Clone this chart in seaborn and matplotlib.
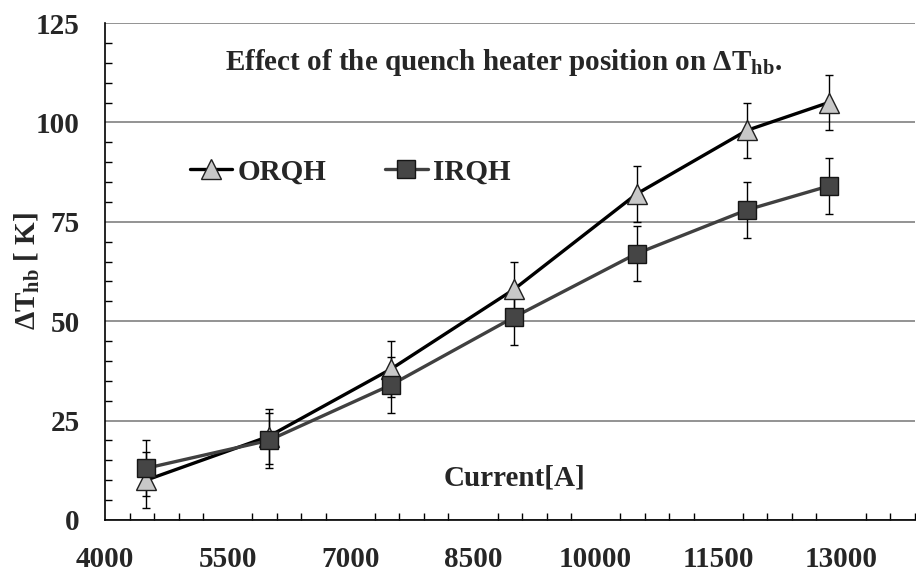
import numpy as np
import pandas as pd
import matplotlib
matplotlib.use("Agg")
import matplotlib.pyplot as plt
from matplotlib.ticker import FixedLocator
import seaborn as sns

# dados
corrente = [4500, 6000, 7500, 9000, 10500, 11850, 12850]
dt_orqh = [10, 21, 38, 58, 82, 98, 105]
dt_irqh = [13, 20, 34, 51, 67, 78, 84]
erro_orqh = [7, 7, 7, 7, 7, 7, 7]
erro_irqh = [7, 7, 7, 7, 7, 7, 7]

sns.set_theme(style="white")
plt.rcParams['font.family'] = ['Liberation Serif', 'DejaVu Serif']
plt.rcParams['font.weight'] = 'bold'
plt.rcParams['mathtext.fontset'] = 'custom'
plt.rcParams['mathtext.rm'] = 'Liberation Serif:bold'
plt.rcParams['mathtext.bf'] = 'Liberation Serif:bold'
plt.rcParams['mathtext.it'] = 'Liberation Serif:bold'

FS = 21

df = pd.DataFrame({'Current': corrente, 'ORQH': dt_orqh, 'IRQH': dt_irqh})

fig, ax = plt.subplots(figsize=(9.16, 5.84), dpi=100)
fig.subplots_adjust(left=0.1146, right=0.9985, bottom=0.1096, top=0.9606)

# barras de erro primeiro (ficam atrás dos marcadores)
ax.errorbar(corrente, dt_orqh, yerr=erro_orqh, fmt='none', ecolor='black',
            elinewidth=1, capsize=3, capthick=1, zorder=2)
ax.errorbar(corrente, dt_irqh, yerr=erro_irqh, fmt='none', ecolor='black',
            elinewidth=1, capsize=3, capthick=1, zorder=2)

sns.lineplot(data=df, x='Current', y='ORQH', ax=ax, color='black', linewidth=2.4,
             marker='^', markersize=14, markerfacecolor='#c8c8c8',
             markeredgecolor='#202020', markeredgewidth=1, label='ORQH', zorder=3)
sns.lineplot(data=df, x='Current', y='IRQH', ax=ax, color='#404040', linewidth=2.4,
             marker='s', markersize=13, markerfacecolor='#454545',
             markeredgecolor='#151515', markeredgewidth=1, label='IRQH', zorder=4)

ax.set_xlim(4000, 13900)
ax.set_ylim(0, 125)

ax.xaxis.set_major_locator(FixedLocator(np.arange(4000, 13001, 1500)))
ax.xaxis.set_minor_locator(FixedLocator(np.arange(4000, 13901, 300)))
ax.yaxis.set_major_locator(FixedLocator(np.arange(0, 126, 25)))
ax.yaxis.set_minor_locator(FixedLocator(np.arange(0, 126, 5)))

ax.tick_params(axis='x', which='major', direction='out', length=7, width=1,
               color='#707070', pad=12, labelsize=FS)
ax.tick_params(axis='x', which='minor', direction='in', length=5, width=1,
               color='black', bottom=True)
ax.tick_params(axis='y', which='major', direction='out', length=7, width=1,
               color='black', pad=11, labelsize=FS)
ax.tick_params(axis='y', which='minor', direction='in', length=5, width=1,
               color='black', left=True)

ax.grid(axis='y', which='major', color='#808080', linewidth=1.2)
ax.grid(axis='x', visible=False)
for lado in ['top', 'right']:
    ax.spines[lado].set_visible(False)
for lado in ['left', 'bottom']:
    ax.spines[lado].set_color('black')
    ax.spines[lado].set_linewidth(1.2)

ax.set_xlabel('')
ax.set_ylabel(r'$\mathbf{\Delta T}_{\mathbf{hb}}$ [ K]', fontsize=FS, fontweight='bold')
ax.yaxis.set_label_coords(-0.078, 0.5)

ax.text(0.4926, 0.92, r'Effect of the quench heater position on $\mathbf{\Delta T}_{\mathbf{hb}}$.',
        transform=ax.transAxes, ha='center', va='center', fontsize=FS, fontweight='bold')
ax.text(0.5056, 0.0845, 'Current[A]', transform=ax.transAxes, ha='center', va='center',
        fontsize=FS, fontweight='bold')

ax.legend(loc='center left', bbox_to_anchor=(0.105, 0.70), ncol=2, frameon=False,
          handlelength=1.45, handletextpad=0.2, columnspacing=2.0,
          borderpad=0, borderaxespad=0, prop={'weight': 'bold', 'size': FS})

plt.savefig('out.png', dpi=100)
plt.close()
